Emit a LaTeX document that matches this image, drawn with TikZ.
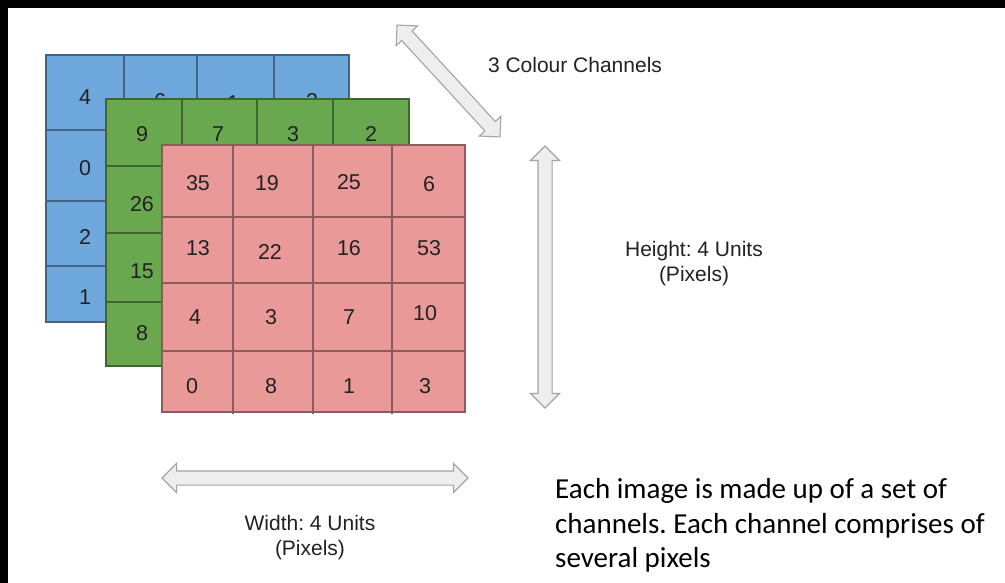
\documentclass[tikz,border=0pt]{standalone}
\usepackage{fontspec}
\setmainfont{Liberation Sans}
\newfontfamily\descfont{Carlito}
\usetikzlibrary{shapes.arrows}
\frenchspacing

\definecolor{chBlue}{HTML}{6FA8DC}
\definecolor{chGreen}{HTML}{6AA84F}
\definecolor{chRed}{HTML}{EA9999}
\definecolor{arrowFill}{HTML}{EEEEEE}
\definecolor{arrowEdge}{HTML}{A4A4A4}
\definecolor{inkDark}{HTML}{222222}

\tikzset{
  digit/.style={font=\fontsize{21.5}{25}\selectfont, text=inkDark, inner sep=0pt, anchor=center},
  label/.style={font=\fontsize{21}{25}\selectfont, text=inkDark, inner sep=0pt, anchor=base},
  desc/.style={font=\descfont\fontsize{29}{34}\selectfont, text=black, inner sep=0pt, anchor=base west},
  dimarrow/.style={double arrow, draw=arrowEdge, fill=arrowFill, line width=1.1pt,
    inner sep=0pt, inner ysep=6.5pt, double arrow head extend=7.5pt, minimum width=0pt},
  blueline/.style={draw=chBlue!60!black, line width=1.2pt},
  greenline/.style={draw=chGreen!60!black, line width=1.2pt},
  redline/.style={draw=chRed!60!black, line width=1.2pt},
}

\begin{document}
\begin{tikzpicture}[x=1pt,y=-1pt]
  % frame: black strips on the top and left edges, white canvas
  \fill[black] (0,0) rectangle (1005,583);
  \fill[white] (8,8) rectangle (1005,583);
  \useasboundingbox (0,0) rectangle (1005,583);

  % ---- blue channel (back) ----
  \fill[chBlue] (46,55) rectangle (349,322);
  \foreach \x in {124,197,274} \draw[blueline] (\x,55) -- (\x,322);
  \foreach \y in {130,201,266} \draw[blueline] (46,\y) -- (349,\y);
  \draw[blueline] (46,55) rectangle (349,322);
  \foreach \t/\x/\y/\n in {4/85/97/b11, 6/160/101/b12, 1/233/103/b13, 3/312/101/b14,
                           0/85/168/b21, 2/85/237/b31, 1/85/297/b41}
    \node[digit] (\n) at (\x,\y) {\t};

  % ---- green channel (middle) ----
  \fill[chGreen] (106,99) rectangle (409,366);
  \foreach \x in {182,257,333} \draw[greenline] (\x,99) -- (\x,366);
  \foreach \y in {166,233,302} \draw[greenline] (106,\y) -- (409,\y);
  \draw[greenline] (106,99) rectangle (409,366);
  \foreach \t/\x/\y/\n in {9/142/134/g11, 7/218/134/g12, 3/293/134/g13, 2/371/134/g14,
                           26/142/204/g21, 15/142/271/g31, 8/142/333/g41}
    \node[digit] (\n) at (\x,\y) {\t};

  % ---- red channel (front) ----
  \fill[chRed] (162,145) rectangle (465,412);
  \foreach \x in {233,313,392} \draw[redline] (\x,145) -- (\x,414);
  \foreach \y in {217,283,351} \draw[redline] (162,\y) -- (465,\y);
  \draw[redline] (162,145) rectangle (465,412);
  \foreach \t/\x/\y/\n in {35/198/183/r11, 19/267/183/r12, 25/349/182/r13, 6/429/184/r14,
                           13/198/248/r21, 22/270/252/r22, 16/349/248/r23, 53/429/248/r24,
                           4/195/317/r31, 3/271/317/r32, 7/349/317/r33, 10/425/313/r34,
                           0/192/386/r41, 8/271/386/r42, 1/349/386/r43, 3/425/386/r44}
    \node[digit] (\n) at (\x,\y) {\t};

  % ---- dimension arrows ----
  \node[dimarrow, minimum height=152pt, rotate=-47.4] (depth) at (448.5,81) {};
  \node[dimarrow, minimum height=262pt, rotate=90] (height) at (545,277) {};
  \node[dimarrow, minimum height=306pt] (width) at (315,478) {};

  % ---- labels ----
  \node[label] (chanlbl) at (575,73) {3 Colour Channels};
  \node[label] (heightlbl) at (694,256) {Height: 4 Units};
  \node[label] (heightpx) at (694,281) {(Pixels)};
  \node[label] (widthlbl) at (310,530) {Width: 4 Units};
  \node[label] (widthpx) at (310,555) {(Pixels)};

  % ---- description ----
  \node[desc] (desc1) at (555,498) {Each image is made up of a set of};
  \node[desc] (desc2) at (555,533) {channels. Each channel comprises of};
  \node[desc] (desc3) at (555,567) {several pixels};
\end{tikzpicture}
\end{document}
